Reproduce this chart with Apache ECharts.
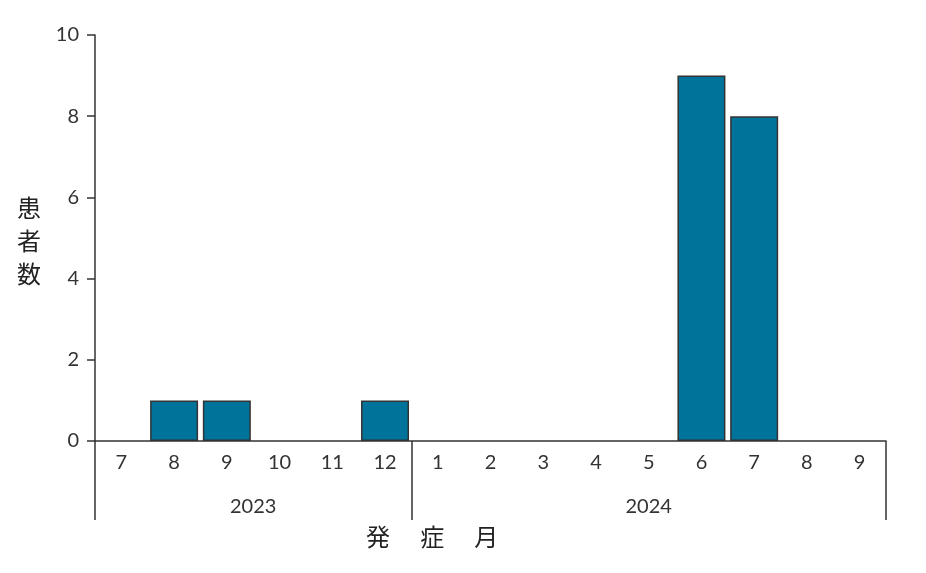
<!DOCTYPE html>
<html>
<head>
<meta charset="utf-8">
<script src="https://cdn.jsdelivr.net/npm/echarts@6/dist/echarts.min.js"></script>
<style>
  html, body { margin: 0; padding: 0; background: #fff; }
  #main { width: 926px; height: 573px; }
</style>
</head>
<body>
<div id="main"></div>
<script>
// 発症月ごとの患者数
var months = ['7', '8', '9', '10', '11', '12', '1', '2', '3', '4', '5', '6', '7', '8', '9'];
var patients = [0, 1, 1, 0, 0, 1, 0, 0, 0, 0, 0, 9, 8, 0, 0];
var years = ['2023', '2024'];
var yearBounds = [0, 6, 15];   // 年の区切り(カテゴリ位置)
var yearCenters = [3, 10.5];

var chart = echarts.init(document.getElementById('main'));
var font = 'Lato, "Noto Sans CJK JP", sans-serif';

// 0件の月は枠線を描かない(軸線に重ならないように)
var barData = patients.map(function (v) {
    return v === 0 ? { value: v, itemStyle: { borderWidth: 0 } } : v;
});

var option = {
    animation: false,
    textStyle: { fontFamily: font },
    grid: { left: 95, right: 40, top: 35, bottom: 132 },
    title: [{
        text: '患\n者\n数',
        left: 17, top: 193, padding: 0,
        textStyle: { fontSize: 24, fontWeight: 'normal', color: '#222', lineHeight: 33, fontFamily: font }
    }, {
        text: '発　 症　 月',
        left: 366, top: 526, padding: 0,
        textStyle: { fontSize: 24, fontWeight: 'normal', color: '#222', fontFamily: font }
    }],
    xAxis: [{
        type: 'category',
        data: months,
        axisLine: { lineStyle: { color: '#333', width: 1.5 } },
        axisTick: { show: false },
        axisLabel: { fontSize: 20, color: '#333', margin: 12, interval: 0 }
    }, {
        type: 'value',
        position: 'bottom',
        min: 0, max: 15,
        splitLine: { show: false },
        axisLine: { show: false },
        axisTick: { show: true, customValues: yearBounds, length: 79, lineStyle: { color: '#333', width: 1.5 } },
        axisLabel: {
            customValues: yearCenters, fontSize: 20, color: '#333', margin: 56,
            formatter: function (v) { return v < 6 ? years[0] : years[1]; }
        }
    }],
    yAxis: {
        type: 'value',
        min: 0, max: 10, interval: 2,
        splitLine: { show: false },
        axisLine: { show: true, lineStyle: { color: '#333', width: 1.5 } },
        axisTick: { show: true, length: 8, lineStyle: { color: '#333', width: 1.5 } },
        axisLabel: { fontSize: 20, color: '#333', margin: 16 }
    },
    series: [{
        name: '患者数',
        type: 'bar',
        data: barData,
        barCategoryGap: '9%',
        itemStyle: { color: '#00739a', borderColor: '#333', borderWidth: 1.5 }
    }]
};

chart.setOption(option);
</script>
</body>
</html>
